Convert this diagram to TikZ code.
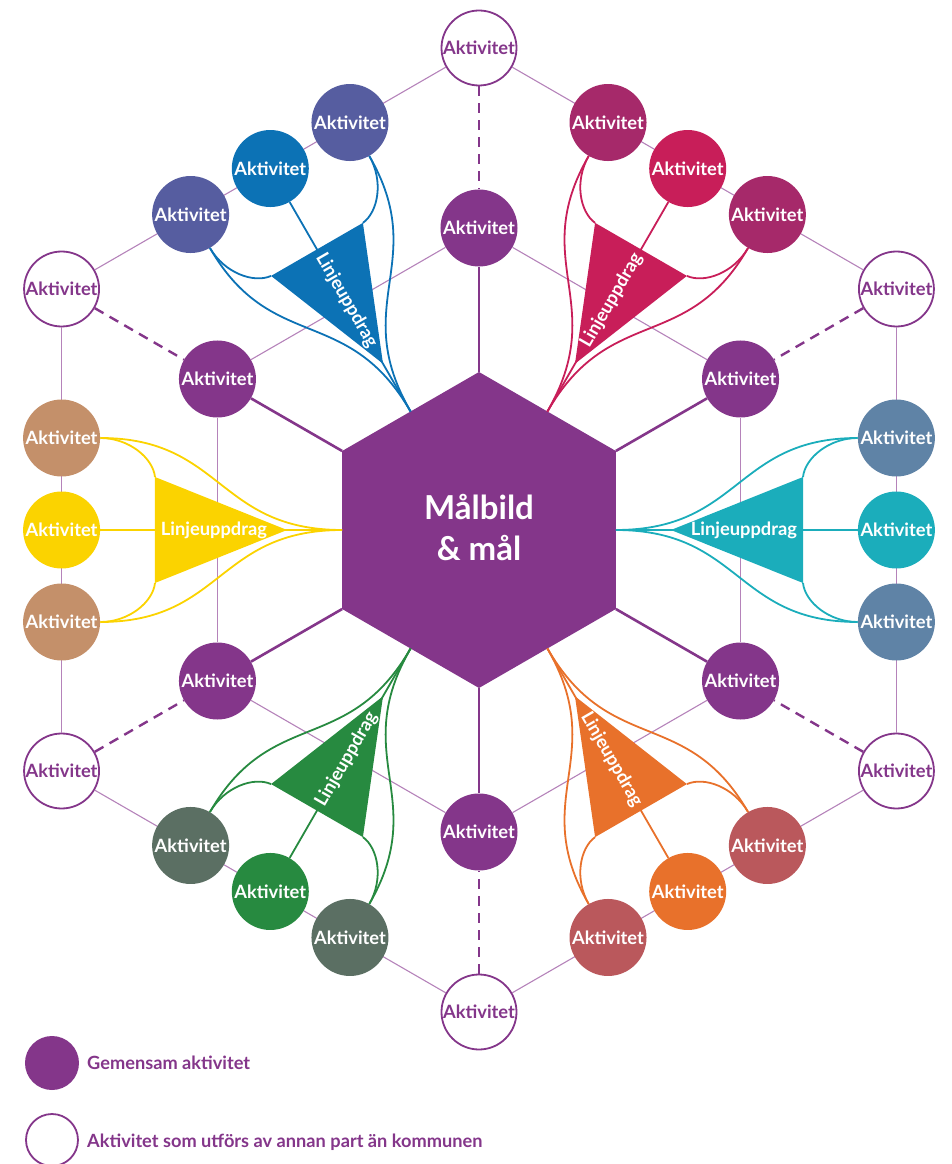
\documentclass[tikz,border=0pt]{standalone}
\usepackage{fontspec}
\setmainfont{Lato}[Ligatures={Common,Rare}]
\definecolor{mp}{HTML}{84368A}
\definecolor{thinc}{HTML}{B583BA}
\definecolor{steel}{HTML}{5F83A6}
\definecolor{tealc}{HTML}{1BADBB}
\definecolor{plum}{HTML}{A6296A}
\definecolor{crim}{HTML}{C81E59}
\definecolor{indig}{HTML}{565DA0}
\definecolor{bluec}{HTML}{0C72B5}
\definecolor{tanc}{HTML}{C4906A}
\definecolor{yelc}{HTML}{FBD300}
\definecolor{slatec}{HTML}{5B6F63}
\definecolor{grnc}{HTML}{278A40}
\definecolor{dred}{HTML}{BA585C}
\definecolor{orgc}{HTML}{E8712B}
\begin{document}
\begin{tikzpicture}[x=1pt,y=1pt,
  act/.style={circle, minimum size=77pt, inner sep=0pt, font=\fontsize{18.3}{20}\selectfont\bfseries, text=white},
  innerc/.style={act, fill=mp},
  outerc/.style={act, draw=mp, line width=1.8pt, fill=white, text=mp, minimum size=75pt},
  thinline/.style={draw=thinc, line width=1.1pt},
  dashline/.style={draw=mp, line width=2.4pt, dash pattern=on 10pt off 7pt},
  thickline/.style={draw=mp, line width=2.6pt},
  cline/.style={line width=1.8pt},
  ltext/.style={text=white, inner sep=0pt, font=\fontsize{18.3}{20}\selectfont\bfseries},
  legtext/.style={text=mp, anchor=west, inner sep=0pt, font=\fontsize{18.2}{20}\selectfont\bfseries}
]
\useasboundingbox (-479,-634) rectangle (473,530);
% central hexagon
\foreach \k/\a in {1/90,2/150,3/210,4/270,5/330,6/30}
  \coordinate (v\k) at (\a:158);
\fill[mp] (v1) -- (v2) -- (v3) -- (v4) -- (v5) -- (v6) -- cycle;
\node[text=white, align=center, font=\fontsize{33}{41}\selectfont\bfseries] (hex) at (0,2) {Målbild\\\& mål};
% inner and outer activity circles
\foreach \k/\a in {1/90,2/150,3/210,4/270,5/330,6/30}{
  \node[innerc] (i\k) at (\a:302) {Aktivitet};
  \node[outerc] (o\k) at (\a:482) {Aktivitet};
}
\foreach \k/\n in {1/2,2/3,3/4,4/5,5/6,6/1}{
  \draw[thinline] (i\k) -- (i\n);
  \draw[thinline] (o\k) -- (o\n);
}
\foreach \k in {1,...,6}{
  \draw[dashline] (o\k) -- (i\k);
  \draw[thickline] (v\k) -- (i\k);
}
% clusters
\foreach \i/\ang/\oc/\mc/\rot in {1/0/steel/tealc/0, 2/60/plum/crim/60, 3/120/indig/bluec/-60, 4/180/tanc/yelc/0, 5/240/slatec/grnc/60, 6/300/dred/orgc/-60}{
  \pgfmathtruncatemacro\back{\ang+180}
  \begin{scope}[rotate=\ang]
    \coordinate (h\i) at (136.8,0);
    \coordinate (ta\i) at (324,53);
    \coordinate (tb\i) at (324,-53);
    \coordinate (tt\i) at (192,0);
    \node[act, fill=\oc] (ca\i) at (417.4,92) {Aktivitet};
    \node[act, fill=\mc] (cm\i) at (417.4,0) {Aktivitet};
    \node[act, fill=\oc] (cb\i) at (417.4,-92) {Aktivitet};
    \draw[cline, \mc] (ca\i.\back) .. controls (350,92) and (326,72) .. (ta\i);
    \draw[cline, \mc] (cb\i.\back) .. controls (350,-92) and (326,-72) .. (tb\i);
    \draw[cline, \mc] (ca\i.\back) .. controls (256,92) and (262,0) .. (h\i);
    \draw[cline, \mc] (cb\i.\back) .. controls (256,-92) and (262,0) .. (h\i);
    \draw[cline, \mc] (cm\i.\back) -- (h\i);
    \fill[\mc] (ta\i) -- (tb\i) -- (tt\i) -- cycle;
    \node[ltext, rotate=\rot] (lt\i) at (265,0) {Linjeuppdrag};
  \end{scope}
}
% legend
\node[circle, fill=mp, minimum size=54pt, inner sep=0pt] (lg1) at (-427,-533) {};
\node[legtext] (lx1) at (-392,-533) {Gemensam aktivitet};
\node[circle, draw=mp, line width=1.8pt, fill=white, minimum size=52pt, inner sep=0pt] (lg2) at (-427,-610) {};
\node[legtext, text depth=0pt] (lx2) at (-392,-611) {Aktivitet som utförs av annan part än kommunen};
\end{tikzpicture}
\end{document}
